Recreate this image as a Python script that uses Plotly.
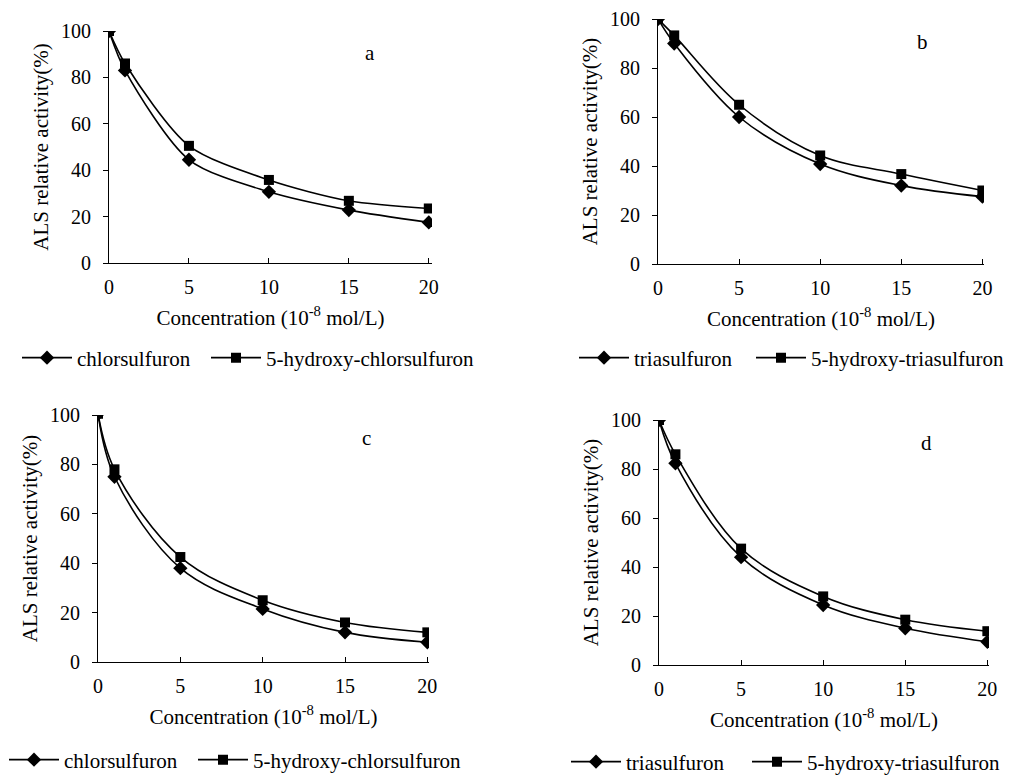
import plotly.graph_objects as go

conc = [0, 1, 5, 10, 15, 20]

# Panel a
a_chlor = [100, 83, 44.5, 30.7, 22.8, 17.5]
a_hchlor = [100, 86, 50.5, 35.8, 26.8, 23.5]
# Panel b
b_tria = [100, 90, 60, 40.8, 32, 27.5]
b_htria = [100, 93.3, 65, 44.3, 36.7, 30]
# Panel c
c_chlor = [100.5, 75, 38, 21.5, 12, 8]
c_hchlor = [100.5, 78, 42.5, 25, 16, 12]
# Panel d
d_tria = [100, 82.3, 44, 24.5, 15, 9.5]
d_htria = [100, 86, 47.5, 28, 18.5, 13.8]

xticks = [0, 5, 10, 15, 20]
yticks = [0, 20, 40, 60, 80, 100]
panel_labels = ["a", "b", "c", "d"]

FONT = "Liberation Serif, Times New Roman, serif"

# page body has an 8px margin: shift positions accordingly
OFF = 8
W, H = 1015 - OFF, 775

def fx(px):
    return (px - OFF) / W

def fy(py):
    return 1 - (py - OFF) / H

fig = go.Figure()

panels = [
    ("x", "y", "chlorsulfuron", a_chlor, "5-hydroxy-chlorsulfuron", a_hchlor, 0.8),
    ("x2", "y2", "triasulfuron", b_tria, "5-hydroxy-triasulfuron", b_htria, 1.0),
    ("x3", "y3", "chlorsulfuron", c_chlor, "5-hydroxy-chlorsulfuron", c_hchlor, 1.0),
    ("x4", "y4", "triasulfuron", d_tria, "5-hydroxy-triasulfuron", d_htria, 1.0),
]

# reference pixel position where each legend entry's line starts (x, y centre)
legend_starts = [
    (24, 358), (213, 358),
    (581, 358), (758, 358),
    (11, 760), (200, 760),
    (573, 762), (754, 762),
]

leg_idx = 0
for xa, ya, n1, v1, n2, v2, sm in panels:
    for name, vals, sym, size in ((n1, v1, "diamond", 11), (n2, v2, "square", 10)):
        key = "legend" if leg_idx == 0 else "legend" + str(leg_idx + 1)
        fig.add_trace(go.Scatter(
            x=conc, y=vals, name=name, xaxis=xa, yaxis=ya, legend=key,
            mode="lines+markers", showlegend=True,
            line=dict(color="black", width=1.6, shape="spline", smoothing=sm),
            marker=dict(symbol=sym, size=size, color="black"),
        ))
        leg_idx += 1

# plot areas in reference pixels: (x0, x1, y_bottom, y_top, x range max)
areas = [
    (109, 432, 263, 31, 20.2),
    (658, 984, 264, 19, 20.1),
    (98, 429, 662, 415, 20.1),
    (659, 989, 665, 420, 20.1),
]

axis_font = dict(family=FONT, size=20, color="black")

layout = dict(
    width=W, height=H, margin=dict(l=0, r=0, t=0, b=0, autoexpand=False),
    paper_bgcolor="white", plot_bgcolor="white",
    font=dict(family=FONT, size=20, color="black"),
    showlegend=True,
    annotations=[],
)

for i, (x0, x1, yb, yt, xmax) in enumerate(areas):
    sfx = "" if i == 0 else str(i + 1)
    layout["xaxis" + sfx] = dict(
        showline=True, linecolor="black", linewidth=1.2, showgrid=False, zeroline=False,
        ticks="inside", ticklen=5, tickcolor="black", tickwidth=1,
        tickfont=axis_font, ticklabelstandoff=6, automargin=False,
        ticklabeloverflow="allow",
        domain=[fx(x0), fx(x1)], range=[0, xmax],
        tickvals=xticks, anchor="y" + sfx,
        title=dict(text="Concentration (10<sup>-8</sup> mol/L)",
                   font=dict(family=FONT, size=21, color="black"), standoff=13),
    )
    layout["yaxis" + sfx] = dict(
        showline=True, linecolor="black", linewidth=1.2, showgrid=False, zeroline=False,
        ticks="outside", ticklen=5, tickcolor="black", tickwidth=1,
        tickfont=axis_font, ticklabelstandoff=8, automargin=False,
        ticklabeloverflow="allow",
        domain=[fy(yb), fy(yt)], range=[0, 100],
        tickvals=yticks, anchor="x" + sfx,
        title=dict(text="ALS relative activity(%)",
                   font=dict(family=FONT, size=21, color="black"), standoff=6),
    )
    layout["annotations"].append(dict(
        text=panel_labels[i], x=16.3, y=90.5, xref="x" + sfx, yref="y" + sfx,
        showarrow=False, font=dict(family=FONT, size=21, color="black"),
    ))

for i, (lx, ly) in enumerate(legend_starts):
    key = "legend" if i == 0 else "legend" + str(i + 1)
    layout[key] = dict(
        orientation="h", x=fx(lx - 7), y=fy(ly), xanchor="left", yanchor="middle",
        font=dict(family=FONT, size=21, color="black"), itemwidth=50,
        bgcolor="rgba(0,0,0,0)", visible=True,
    )

fig.update_layout(**layout)
fig.write_html("out.html")
